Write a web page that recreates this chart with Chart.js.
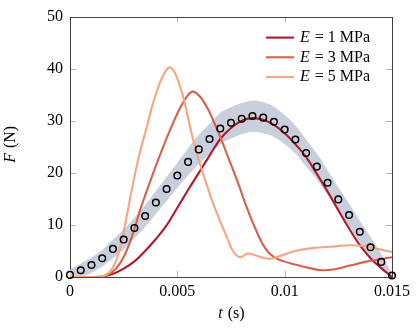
<!DOCTYPE html>
<html>
<head>
<meta charset="utf-8">
<script src="https://cdn.jsdelivr.net/npm/chart.js@4.4.1/dist/chart.umd.min.js"></script>
<style>
  html, body { margin: 0; padding: 0; background: #fff; }
  canvas { display: block; }
</style>
</head>
<body>
<canvas id="forceChart" width="416" height="329"></canvas>
<script>
// time grid of the measurement (s), one sample every 0.5 ms
var tGrid = [0, 0.0005, 0.001, 0.0015, 0.002, 0.0025, 0.003, 0.0035, 0.004, 0.0045,
             0.005, 0.0055, 0.006, 0.0065, 0.007, 0.0075, 0.008, 0.0085, 0.009, 0.0095,
             0.01, 0.0105, 0.011, 0.0115, 0.012, 0.0125, 0.013, 0.0135, 0.014, 0.0145, 0.015];

// measured force (N) - the open circles
var expF = [0.4, 1.3, 2.3, 3.6, 5.4, 7.2, 9.4, 11.7, 14.3, 16.9,
            19.5, 22.1, 24.5, 26.5, 28.5, 29.6, 30.4, 30.9, 30.6, 29.8,
            28.3, 26.4, 23.8, 21.2, 18.1, 14.9, 11.9, 8.7, 5.7, 2.9, 0.3];

// spread of the measurement (grey band)
var bandLow  = [-0.6, 0, 0.8, 2.0, 3.6, 5.3, 7.4, 9.6, 12.1, 14.6,
                17.1, 19.5, 21.7, 23.6, 25.5, 26.6, 27.4, 27.9, 27.6, 26.9,
                25.5, 23.7, 21.2, 18.7, 15.7, 12.6, 9.7, 6.6, 3.7, 1.4, 0];
var bandHigh = [1.4, 2.6, 3.8, 5.2, 7.2, 9.1, 11.4, 13.8, 16.5, 19.2,
                21.9, 24.7, 27.3, 29.4, 31.5, 32.6, 33.4, 33.9, 33.6, 32.7,
                31.1, 29.1, 26.4, 23.7, 20.5, 17.2, 14.1, 10.8, 7.7, 4.4, 0.6];

// simulation E = 1 MPa (same time grid)
var fE1 = [0, 0, 0, 0.1, 0.6, 1.6, 3.0, 5.0, 7.3, 9.9,
           13.3, 16.7, 20.0, 23.3, 26.5, 28.6, 30.0, 30.5, 30.2, 29.2,
           27.6, 25.5, 23.0, 19.8, 16.4, 12.8, 9.3, 6.1, 3.6, 1.7, 0];

// simulation E = 3 MPa
var tE3 = [0, 0.0014, 0.00177, 0.00214, 0.00252, 0.00289, 0.00326, 0.00373, 0.00419, 0.00466,
           0.00512, 0.00545, 0.00573, 0.00606, 0.00638, 0.00666, 0.00699, 0.00731, 0.00778, 0.00825,
           0.00871, 0.00908, 0.0095, 0.00997, 0.01048, 0.01118, 0.01174, 0.01234, 0.01304, 0.01374,
           0.01444, 0.015];
var fE3 = [0, 0, 0.4, 1.6, 4.0, 7.8, 12.8, 18.3, 23.4, 28.2,
           32.4, 34.7, 35.6, 34.6, 32.6, 30.2, 27.0, 23.6, 18.6, 13.2,
           8.6, 5.6, 3.8, 3.0, 2.4, 1.7, 1.3, 1.5, 2.2, 2.9,
           3.4, 3.8];

// simulation E = 5 MPa
var tE5 = [0, 0.0012, 0.00155, 0.00186, 0.00214, 0.00238, 0.00261, 0.00289, 0.00326, 0.00359,
           0.00387, 0.00419, 0.00443, 0.00461, 0.0048, 0.00498, 0.00526, 0.00573, 0.00606, 0.00638,
           0.00666, 0.00699, 0.00731, 0.00759, 0.00792, 0.00829, 0.00876, 0.00932, 0.00988, 0.01048,
           0.01118, 0.01211, 0.01304, 0.01374, 0.01444, 0.015];
var fE5 = [0, 0, 0.2, 1.0, 3.0, 6.5, 11.0, 17.0, 24.0, 29.0,
           33.4, 37.3, 39.4, 40.2, 39.8, 38.3, 34.8, 26.5, 21.6, 17.6,
           14.2, 10.8, 7.6, 5.0, 3.8, 4.5, 4.0, 3.5, 4.2, 5.0,
           5.5, 5.8, 6.1, 5.9, 5.3, 4.8];

var seriesLabels = ['E = 1 MPa', 'E = 3 MPa', 'E = 5 MPa'];
var xTicks = [0, 0.005, 0.01, 0.015];
var yTicks = [0, 10, 20, 30, 40, 50];

var lineColors = ['#b2182b', '#d6604d', '#f4a582'];
var serif = "'Liberation Serif', 'DejaVu Serif', serif";

function pts(ts, fs) {
    return ts.map(function (t, i) { return { x: t, y: fs[i] }; });
}

function curve(idx, data, order) {
    return {
        label: seriesLabels[idx],
        data: data,
        borderColor: lineColors[idx],
        borderWidth: 2.1,
        pointRadius: 0,
        fill: false,
        tension: 0.4,
        order: order
    };
}

// draw a run of text where the first character is an italic variable
function mathText(ctx, str, x, y, align) {
    var v = str.charAt(0), rest = str.slice(1);
    ctx.font = 'italic 16px ' + serif;
    var wv = ctx.measureText(v).width;
    ctx.font = '16px ' + serif;
    var wr = ctx.measureText(rest).width;
    var x0 = align === 'center' ? x - (wv + wr) / 2 : x;
    ctx.textAlign = 'left';
    ctx.font = 'italic 16px ' + serif;
    ctx.fillText(v, x0, y);
    ctx.font = '16px ' + serif;
    ctx.fillText(rest, x0 + wv + 1, y);
}

// pgfplots-like box with inward ticks, legend and axis labels
var pgfFrame = {
    id: 'pgfFrame',
    beforeDatasetsDraw: function (chart) {
        var ctx = chart.ctx, a = chart.chartArea;
        var xs = chart.scales.x, ys = chart.scales.y;
        ctx.save();
        ctx.strokeStyle = '#b3b3b3';
        ctx.lineWidth = 1;
        ctx.beginPath();
        xTicks.forEach(function (v) {
            var px = Math.round(xs.getPixelForValue(v)) + 0.5;
            if (px < a.left + 2 || px > a.right - 2) return;
            ctx.moveTo(px, a.bottom); ctx.lineTo(px, a.bottom - 6);
            ctx.moveTo(px, a.top); ctx.lineTo(px, a.top + 6);
        });
        yTicks.forEach(function (v) {
            var py = Math.round(ys.getPixelForValue(v)) + 0.5;
            if (py < a.top + 2 || py > a.bottom - 2) return;
            ctx.moveTo(a.left, py); ctx.lineTo(a.left + 6, py);
            ctx.moveTo(a.right, py); ctx.lineTo(a.right - 6, py);
        });
        ctx.stroke();
        ctx.strokeStyle = '#404040';
        ctx.strokeRect(Math.round(a.left) + 0.5, Math.round(a.top) + 0.5,
                       Math.round(a.right - a.left), Math.round(a.bottom - a.top));
        ctx.restore();
    },
    afterDraw: function (chart) {
        var ctx = chart.ctx, a = chart.chartArea;
        ctx.save();
        ctx.fillStyle = '#000';
        ctx.textBaseline = 'middle';

        // legend, top right inside the box
        for (var i = 0; i < seriesLabels.length; i++) {
            var y = a.top + 21 + i * 19.7;
            ctx.strokeStyle = lineColors[i];
            ctx.lineWidth = 2.1;
            ctx.beginPath();
            ctx.moveTo(a.right - 126, y);
            ctx.lineTo(a.right - 98, y);
            ctx.stroke();
            mathText(ctx, seriesLabels[i], a.right - 92, y, 'left');
        }

        // axis titles
        mathText(ctx, 't (s)', (a.left + a.right) / 2, 314, 'center');
        ctx.translate(11, (a.top + a.bottom) / 2 - 2);
        ctx.rotate(-Math.PI / 2);
        mathText(ctx, 'F (N)', 0, 0, 'center');
        ctx.restore();
    }
};

var tickFont = { family: serif, size: 16 };

var chart = new Chart(document.getElementById('forceChart'), {
    type: 'line',
    data: {
        datasets: [
            { label: 'spread low', data: pts(tGrid, bandLow), borderWidth: 0, pointRadius: 0,
              fill: false, tension: 0.4, order: 6 },
            { label: 'spread high', data: pts(tGrid, bandHigh), borderWidth: 0, pointRadius: 0,
              fill: '-1', backgroundColor: '#c9cfdc', tension: 0.4, order: 5 },
            curve(0, pts(tGrid, fE1), 3),
            curve(1, pts(tE3, fE3), 2),
            curve(2, pts(tE5, fE5), 1),
            { label: 'Experiment', data: pts(tGrid, expF), showLine: false,
              pointRadius: 3.3, pointBorderWidth: 1.5, pointBorderColor: '#000',
              pointBackgroundColor: 'rgba(0,0,0,0)', clip: false, order: 0 }
        ]
    },
    options: {
        responsive: false,
        animation: false,
        devicePixelRatio: 1,
        layout: { padding: { top: 12, right: 24, left: 0, bottom: 0 } },
        plugins: { legend: { display: false }, tooltip: { enabled: false } },
        scales: {
            x: {
                type: 'linear', min: 0, max: 0.015,
                afterBuildTicks: function (s) { s.ticks = xTicks.map(function (v) { return { value: v }; }); },
                afterFit: function (s) { s.height = 52; },
                grid: { display: false, drawTicks: false },
                border: { display: false },
                ticks: { font: tickFont, color: '#000', padding: 5, maxRotation: 0,
                         callback: function (v) { return String(v); } }
            },
            y: {
                type: 'linear', min: 0, max: 50,
                afterBuildTicks: function (s) { s.ticks = yTicks.map(function (v) { return { value: v }; }); },
                afterFit: function (s) { s.width = 70; },
                grid: { display: false, drawTicks: false },
                border: { display: false },
                ticks: { font: tickFont, color: '#000', padding: 7,
                         callback: function (v) { return String(v); } }
            }
        }
    },
    plugins: [pgfFrame]
});
</script>
</body>
</html>
